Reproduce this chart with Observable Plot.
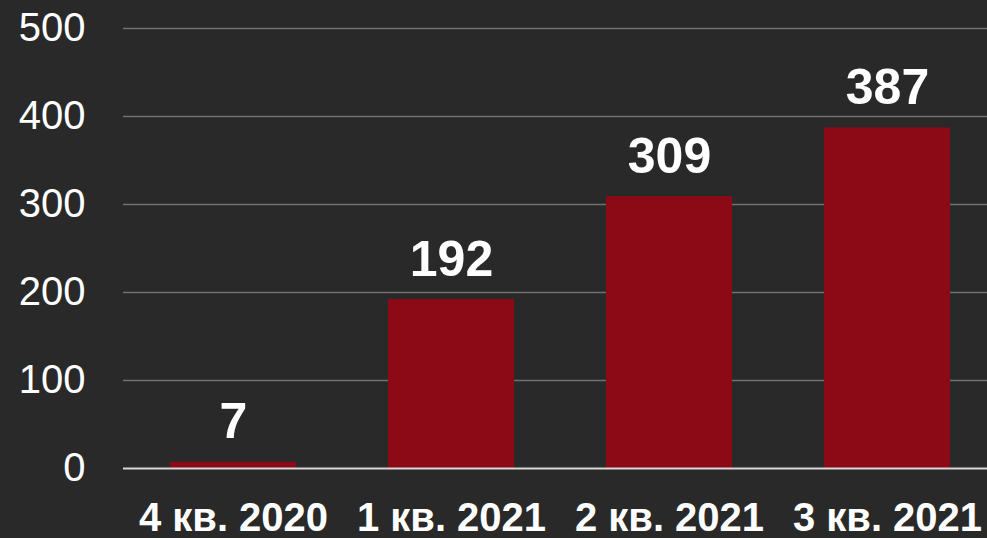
<!DOCTYPE html>
<html>
<head>
<meta charset="utf-8">
<script src="https://cdn.jsdelivr.net/npm/d3@7"></script>
<script src="https://cdn.jsdelivr.net/npm/@observablehq/plot@0.6"></script>
<style>
  html, body { margin: 0; padding: 0; background: #292929; }
  #chart svg { display: block; }
</style>
</head>
<body>
<div id="chart"></div>
<script>
const categories = ["4 кв. 2020", "1 кв. 2021", "2 кв. 2021", "3 кв. 2021"];
const values = [7, 192, 309, 387];
const yTicks = [0, 100, 200, 300, 400, 500];

const data = categories.map((c, i) => ({ category: c, value: values[i] }));

const chart = Plot.plot({
  width: 987,
  height: 538,
  marginTop: 28,
  marginBottom: 70,
  marginLeft: 123,
  marginRight: 0,
  style: { background: "#292929", color: "#ffffff", fontFamily: "'Liberation Sans', Arial, sans-serif", overflow: "visible" },
  x: { domain: categories, range: [124, 996], paddingInner: 0.42, paddingOuter: 0.21, axis: null },
  y: { domain: [0, 500], axis: null },
  marks: [
    Plot.ruleY(yTicks.filter(d => d > 0), { stroke: "#707070", strokeWidth: 1.5 }),
    Plot.barY(data, { x: "category", y: "value", fill: "#8c0a16" }),
    Plot.ruleY([0], { stroke: "#d8d8d8", strokeWidth: 2 }),
    Plot.text(yTicks, { y: d => d, frameAnchor: "left", dx: -38, text: d => String(d), textAnchor: "end", fill: "#ffffff", fontSize: 40 }),
    Plot.text(data, { x: "category", y: "value", text: d => String(d.value), dy: -40, fill: "#ffffff", fontSize: 50, fontWeight: "bold" }),
    Plot.text(data, { x: "category", y: 0, text: "category", dy: 50, fill: "#ffffff", fontSize: 40, fontWeight: "bold" })
  ]
});

document.getElementById("chart").appendChild(chart);
</script>
</body>
</html>
